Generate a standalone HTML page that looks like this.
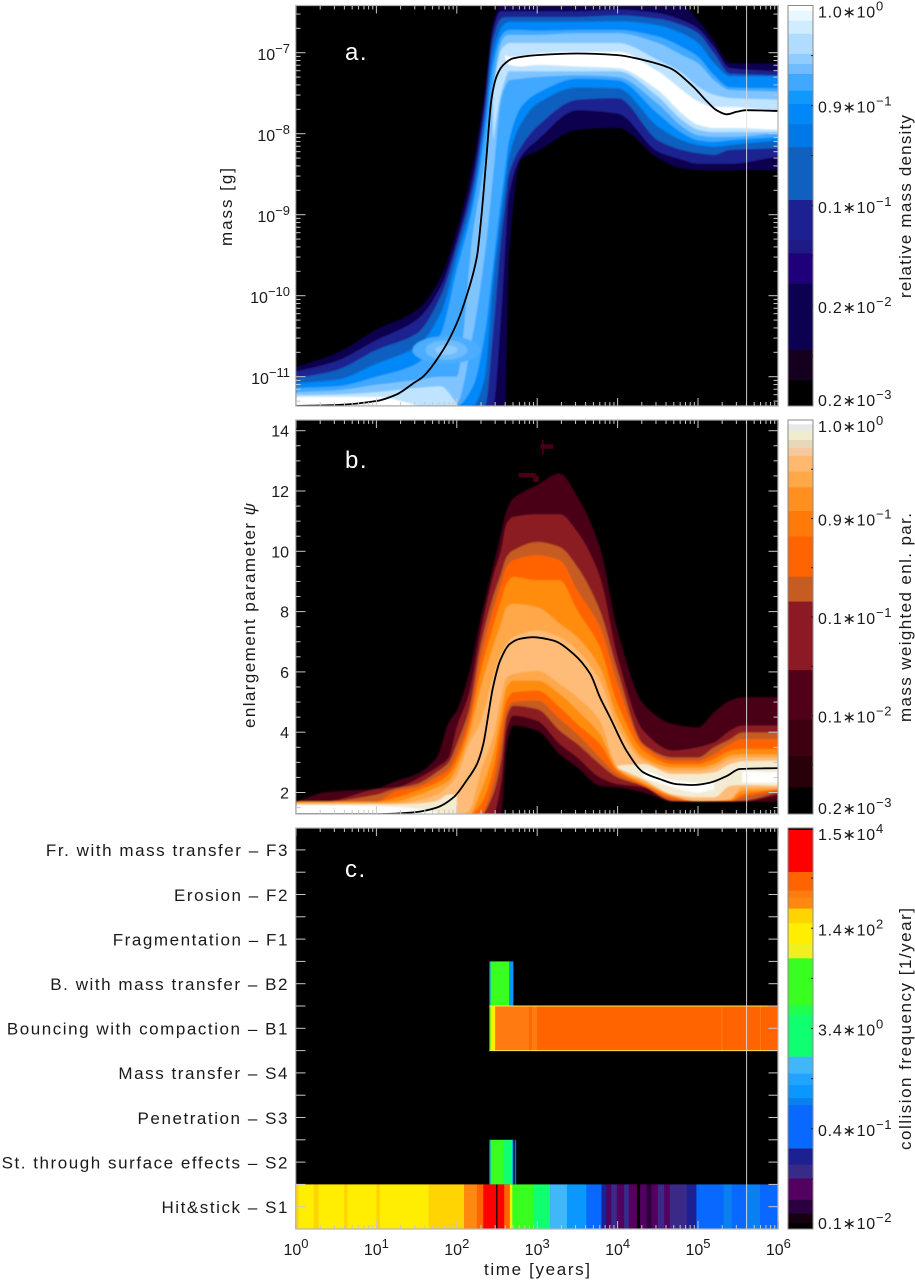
<!DOCTYPE html>
<html lang="en">
<head>
<meta charset="utf-8">
<title>Dust evolution panels</title>
<style>
html,body{margin:0;padding:0;background:#fff;}
svg{display:block;font-family:"Liberation Sans",sans-serif;}
text{fill:#1a1a1a;}
</style>
</head>
<body>
<svg id="figure" xmlns="http://www.w3.org/2000/svg" width="915" height="1281" viewBox="0 0 915 1281">
  <defs>
    <clipPath id="clip-a"><rect x="296" y="5.5" width="482" height="400.5"/></clipPath>
    <clipPath id="clip-b"><rect x="296" y="420" width="482" height="394"/></clipPath>
    <clipPath id="clip-c"><rect x="296" y="828" width="482" height="401"/></clipPath>
    <filter id="soften" x="-5%" y="-5%" width="110%" height="110%"><feGaussianBlur stdDeviation="0.9"/></filter>
  </defs>
  <rect width="915" height="1281" fill="#fff"/>

  <rect x="296" y="5.5" width="482" height="400.5" fill="#000"/>
  <rect x="296" y="420" width="482" height="394" fill="#000"/>
  <rect x="296" y="828" width="482" height="401" fill="#000"/>

  <g id="layer-a" clip-path="url(#clip-a)"></g>
  <g id="layer-b" clip-path="url(#clip-b)"></g>
  <g id="layer-c" clip-path="url(#clip-c)"></g>
  <g id="layer-axes"></g>
  <g id="layer-bars"></g>
  <g id="layer-labels" font-size="16"></g>

  <text x="345" y="60" font-size="24" letter-spacing="1.5" style="fill:#fff">a.</text>
  <text x="345" y="468" font-size="24" letter-spacing="1.5" style="fill:#fff">b.</text>
  <text x="345" y="877" font-size="24" letter-spacing="1.5" style="fill:#fff">c.</text>

  <text transform="translate(232,246) rotate(-90)" font-size="17" textLength="78">mass [g]</text>
  <text transform="translate(255,728) rotate(-90)" font-size="17" textLength="225">enlargement parameter <tspan font-style="italic">ψ</tspan></text>
  <text x="484" y="1275" font-size="17" textLength="106">time [years]</text>
  <text transform="translate(911,298) rotate(-90)" font-size="17" textLength="183">relative mass density</text>
  <text transform="translate(911,722) rotate(-90)" font-size="17" textLength="209">mass weighted enl. par.</text>
  <text transform="translate(911,1150) rotate(-90)" font-size="17" textLength="242">collision frequency [1/year]</text>
</svg>

<script>
// ---------- panel a: log10(mass) contour boundaries at each log10(time) knot ----------
const massKnots = [0,.5,1,1.5,1.8,2,2.2,2.35,2.45,2.55,2.6,2.65,2.8,3,3.5,4,4.5,4.8,5,5.2,5.4,6];
const massLevelColors = ['#0c0050','#1c2090','#1060c0','#0088f8','#40a8ff','#80c4ff','#c0e4ff','#ffffff'];
const massUpper1 = [-10.88,-10.71,-10.42,-10.18,-9.77,-9.19,-8.37,-7.46,-6.64,-6.42,-6.42,-6.42,-6.42,-6.42,-6.42,-6.42,-6.42,-6.42,-6.60,-6.86,-7.13,-7.13];
const massLower1 = [-11.36,-11.36,-11.36,-11.36,-11.36,-11.36,-11.36,-11.36,-11.36,-11.36,-11.36,-9.48,-8.32,-8.22,-7.95,-7.93,-8.30,-8.43,-8.45,-8.45,-8.45,-8.45];
const massUpper2 = [-10.94,-10.81,-10.55,-10.30,-9.89,-9.31,-8.53,-7.58,-6.72,-6.49,-6.49,-6.49,-6.49,-6.49,-6.49,-6.47,-6.51,-6.60,-6.70,-6.93,-7.19,-7.23];
const massLower2 = [-11.36,-11.36,-11.36,-11.36,-11.36,-11.36,-11.36,-11.36,-11.36,-10.26,-9.44,-8.74,-8.28,-8.08,-7.71,-7.75,-8.22,-8.32,-8.37,-8.37,-8.37,-8.28];
const massUpper3 = [-11.02,-10.92,-10.67,-10.47,-10.01,-9.40,-8.65,-7.71,-6.84,-6.58,-6.56,-6.56,-6.56,-6.56,-6.56,-6.54,-6.58,-6.66,-6.76,-7.01,-7.26,-7.28];
const massLower3 = [-11.36,-11.36,-11.36,-11.36,-11.36,-11.36,-11.36,-11.36,-10.47,-9.31,-8.90,-8.49,-8.16,-7.91,-7.58,-7.56,-8.08,-8.20,-8.24,-8.26,-8.20,-8.18];
const massUpper4 = [-11.08,-11.04,-10.84,-10.63,-10.22,-9.52,-8.78,-7.83,-7.01,-6.70,-6.64,-6.62,-6.62,-6.62,-6.62,-6.61,-6.66,-6.76,-6.88,-7.13,-7.29,-7.29];
const massLower4 = [-11.36,-11.36,-11.36,-11.36,-11.36,-11.36,-11.36,-11.0,-9.85,-9.02,-8.65,-8.28,-7.87,-7.63,-7.43,-7.44,-7.91,-8.08,-8.14,-8.16,-8.14,-8.08];
const massUpper5 = [-11.14,-11.12,-11.0,-10.84,-10.47,-9.68,-8.90,-7.99,-7.17,-6.80,-6.74,-6.72,-6.72,-6.73,-6.72,-6.72,-6.80,-6.93,-7.05,-7.28,-7.43,-7.44];
const massLower5 = [-11.36,-11.36,-11.36,-11.36,-11.36,-11.36,-11.12,-10.47,-9.64,-8.82,-8.45,-8.08,-7.67,-7.50,-7.32,-7.34,-7.75,-7.99,-8.08,-8.10,-8.08,-8.04];
const massUpper6 = [-11.19,-11.17,-11.10,-11.04,-11.0,-11.0,-9.23,-8.32,-7.42,-6.88,-6.80,-6.78,-6.78,-6.78,-6.76,-6.76,-6.88,-7.03,-7.13,-7.34,-7.46,-7.48];
const massLower6 = [-11.36,-11.36,-11.36,-11.36,-11.36,-11.33,-10.47,-9.48,-8.53,-7.58,-7.42,-7.34,-7.32,-7.30,-7.28,-7.30,-7.63,-7.91,-8.02,-8.04,-8.04,-7.99];
const massUpper7 = [-11.23,-11.22,-11.19,-11.14,-11.12,-11.33,null,null,-7.46,-6.97,-6.91,-6.88,-6.88,-6.88,-6.88,-6.88,-7.09,-7.25,-7.42,-7.52,-7.56,-7.58];
const massLower7 = [-11.36,-11.36,-11.36,-11.36,-11.36,-11.36,null,null,-8.08,-7.50,-7.34,-7.23,-7.23,-7.23,-7.23,-7.23,-7.54,-7.83,-7.95,-7.98,-7.98,-7.98];
const massUpper8 = [-11.25,-11.25,-11.25,-11.35,null,null,null,null,null,null,-7.03,-7.05,-7.05,-7.01,-6.99,-6.99,-7.23,-7.46,-7.60,-7.67,-7.67,-7.73];
const massLower8 = [-11.36,-11.36,-11.36,-11.36,null,null,null,null,null,null,-7.07,-7.15,-7.17,-7.15,-7.17,-7.19,-7.46,-7.75,-7.89,-7.93,-7.93,-7.95];
const massBlobTime = [1.87,1.87,1.87];
const massBlobMass = [-10.67,-10.67,-10.67];
const massBlobSpanTime = [.42,.26,.14];
const massBlobSpanMass = [.17,.12,.06];
const massBlobColors = ['#4cadff','#6ebcff','#8ccaff'];
const massMeanTime = [0,.5,1,1.25,1.46,1.58,1.83,2,2.12,2.25,2.31,2.37,2.43,2.5,2.58,2.7,3,3.5,4,4.32,4.65,4.94,5.11,5.23,5.36,5.48,5.6,6];
const massMeanValue = [-11.36,-11.35,-11.30,-11.22,-11.08,-11,-10.67,-10.34,-10.01,-9.52,-8.98,-8.28,-7.58,-7.28,-7.15,-7.07,-7.03,-7.01,-7.03,-7.09,-7.19,-7.42,-7.6,-7.71,-7.76,-7.73,-7.71,-7.72];
const massTickExponents = [-7,-8,-9,-10,-11];

// ---------- panel b: enlargement-parameter contour boundaries ----------
const psiKnots = [0,.35,1,1.25,1.5,1.75,1.9,2,2.15,2.3,2.45,2.55,2.62,2.7,3,3.28,3.5,3.78,4,4.32,4.69,5,5.2,5.4,5.55,6];
const psiLevelColors = ['#4a0014','#8b1a24','#c65c22','#ff6400','#ff8c10','#ffa848','#ffbc78','#f3ecd2','#ffffff'];
const psiUpper1 = [1.70,2.0,2.14,2.39,2.61,3.16,4.33,4.72,5.93,7.82,9.48,10.59,11.36,11.75,12.2,12.58,11.81,10.14,7.37,4.94,4.27,4.16,4.66,5.05,5.16,5.16];
const psiLower1 = [1.26,1.26,1.26,1.26,1.26,1.26,1.26,1.26,1.26,1.26,1.26,1.26,3.50,4.22,4.05,3.27,2.83,2.22,2.17,2.0,1.70,1.70,1.70,1.70,1.70,1.70];
const psiUpper2 = [1.70,1.70,2.11,2.17,2.44,2.83,3.16,4.16,5.27,7.37,9.15,10.03,10.92,11.14,11.23,11.23,10.64,9.15,6.49,4.05,3.39,3.50,3.66,4.05,4.22,4.22];
const psiLower2 = [1.26,1.26,1.26,1.26,1.26,1.26,1.26,1.26,1.26,1.26,1.26,2.28,4.05,4.55,4.38,3.61,3.16,2.50,2.28,2.17,1.70,1.70,1.70,1.70,1.70,1.93];
const psiUpper3 = [1.70,1.70,1.93,2.14,2.28,2.67,3.0,3.61,4.72,6.93,8.48,9.26,9.81,10.03,10.31,10.14,9.48,8.04,6.04,3.61,3.16,3.16,3.50,3.77,3.99,3.99];
const psiLower3 = [1.26,1.26,1.26,1.26,1.26,1.26,1.26,1.26,1.26,1.26,1.93,3.05,4.49,4.88,4.77,4.05,3.61,2.94,2.50,2.22,1.72,1.70,1.70,1.70,1.72,2.0];
const psiUpper4 = [1.70,1.70,1.70,2.06,2.17,2.50,2.77,3.27,4.38,6.49,8.04,8.93,9.48,9.70,9.87,9.70,8.70,7.49,5.60,3.55,3.05,3.05,3.27,3.61,3.77,3.77];
const psiLower4 = [1.26,1.26,1.26,1.26,1.26,1.26,1.26,1.26,1.26,1.26,2.28,3.61,4.72,5.0,5.05,4.44,3.94,3.16,2.61,2.22,1.78,1.70,1.70,1.70,1.84,2.06];
const psiUpper5 = [1.70,1.70,1.70,1.84,2.06,2.33,2.61,3.05,4.16,6.04,7.49,8.37,8.93,9.15,9.04,9.04,8.04,6.82,4.94,3.39,2.94,2.94,3.11,3.39,3.44,3.44];
const psiLower5 = [1.26,1.26,1.26,1.26,1.26,1.26,1.26,1.26,1.26,1.61,2.72,4.16,5.05,5.32,5.38,4.83,4.27,3.61,2.72,2.28,1.84,1.70,1.72,1.72,1.93,2.11];
const psiUpper6 = [1.67,1.67,1.67,1.70,1.89,2.17,2.39,2.83,3.89,5.49,6.82,7.60,8.15,8.26,8.15,7.60,7.15,6.15,4.49,3.16,2.83,2.83,2.94,3.22,3.27,3.27];
const psiLower6 = [1.26,1.26,1.26,1.26,1.26,1.26,1.26,1.26,1.26,2.06,3.27,4.60,5.49,5.71,5.71,5.27,4.72,3.94,2.77,2.33,1.89,1.70,1.72,1.78,2.06,2.11];
const psiUpper7 = [1.63,1.63,1.63,1.63,1.72,1.93,2.22,2.55,3.61,4.38,5.82,6.60,6.93,7.15,7.37,7.15,6.71,5.71,4.16,3.05,2.72,2.72,2.83,3.11,3.16,3.16];
const psiLower7 = [1.26,1.26,1.26,1.26,1.26,1.26,1.26,1.26,1.39,2.72,3.83,5.16,5.82,5.93,6.04,5.60,5.16,4.38,2.83,2.39,1.89,1.72,1.72,1.78,2.17,2.17];
const psiUpper8 = [1.61,1.61,1.61,1.61,1.63,1.72,1.93,1.93,null,null,null,null,null,null,null,null,null,null,2.89,2.94,2.61,2.61,2.67,2.94,3.03,3.05];
const psiLower8 = [1.26,1.26,1.26,1.26,1.26,1.26,1.26,1.26,null,null,null,null,null,null,null,null,null,null,2.81,2.44,1.93,1.84,1.84,2.22,2.25,2.22];
const psiUpper9 = [1.58,1.58,1.56,1.52,1.46,1.34,null,null,null,null,null,null,null,null,null,null,null,null,null,2.78,2.41,2.33,2.37,null,2.70,2.67];
const psiLower9 = [1.26,1.26,1.26,1.26,1.26,1.26,null,null,null,null,null,null,null,null,null,null,null,null,null,2.50,2.17,2.0,2.11,null,2.33,2.33];
const psiSpeckStart = [3.04,3.06,2.77,2.95];
const psiSpeckEnd = [3.2,3.08,2.98,3.02];
const psiSpeckLow = [13.4,13.2,12.45,12.3];
const psiSpeckHigh = [13.55,13.7,12.6,12.5];
const psiMeanTime = [0,1,1.46,1.75,1.96,2.12,2.25,2.33,2.40,2.45,2.54,2.66,2.79,2.95,3.2,3.45,3.66,3.78,3.906,4.11,4.32,4.53,4.73,4.94,5.15,5.36,5.52,6];
const psiMeanValue = [1.28,1.28,1.34,1.50,1.84,2.39,2.94,3.61,4.72,5.49,6.38,6.93,7.10,7.15,7.04,6.60,5.93,5.16,4.49,3.39,2.67,2.44,2.28,2.25,2.33,2.55,2.78,2.81];
const psiTickLabels = [14,12,10,8,6,4,2];

// ---------- panel c: collision types, log10(frequency) per time segment ----------
const collisionLabels = ['Hit&stick – S1','St. through surface effects – S2','Penetration – S3','Mass transfer – S4','Bouncing with compaction – B1','B. with mass transfer – B2','Fragmentation – F1','Erosion – F2','Fr. with mass transfer – F3'];
const rowS1Edges = [0,.03,.22,.28,.6,.64,1.0,1.04,1.65,2.09,2.25,2.33,2.49,2.505,2.59,2.66,2.69,2.95,3.16,3.37,3.61,3.8,3.86,3.92,3.99,4.08,4.14,4.24,4.28,4.36,4.42,4.5,4.58,4.65,4.86,4.98,5.32,5.42,5.6,5.77,6];
const rowS1Freq = [2.6,2.3,2.6,2.3,2.6,2.3,2.6,2.3,2.6,2.85,3.2,3.8,-3.05,3.8,3.2,2.3,1.4,.4,-.1,-.6,-1.2,-1.8,-2.4,-2.0,-2.4,-2.0,-2.4,-3.05,-2.4,-2.7,-2.4,-2.0,-2.4,-2.0,-1.8,-1.2,-.78,-1.2,-.78,-1.2];
const rowS2Edges = [2.405,2.42,2.587,2.69,2.70,2.72,2.735];
const rowS2Freq = [-.6,1.4,.4,-.6,null,-1.2];
const rowB1Edges = [2.405,2.42,2.475,2.49,2.9,2.93,3.0,3.2,5.29,5.305,5.77,5.785,6];
const rowB1Freq = [1.4,2.3,2.85,3.0,3.2,3.0,3.1,3.2,3.0,3.2,3.0,3.2];
const rowB2Edges = [2.405,2.42,2.65,2.70];
const rowB2Freq = [-.6,1.4,-.6];
const freqEdges = [-3.11,-3,-2.82,-2.57,-2.18,-1.93,-1.63,-.84,-.71,-.47,-.26,.05,.81,.99,1.85,2.12,2.49,2.76,2.96,3.09,3.43,4.20,4.23];
const freqColors = ['#000000','#14000f','#2a0040','#540060','#3a2a88','#1c2090','#0868ff','#0880f0','#0a98ff','#20a4ff','#40b8f8','#10ff70','#20ff50','#38ff20','#f0f020','#ffee00','#ffd400','#ff8810','#ff7a10','#ff6400','#ff0000','#000000'];

// ---------- shared ----------
const timeExponents = [0,1,2,3,4,5,6];
const markerTime = 5.605;
const barAEdges = [0,.066,.141,.307,.382,.415,.515,.647,.705,.755,.788,.83,.855,.88,.93,.963,.988,1];
const barAColors = ['#000000','#14001e','#0c0050','#20007a','#1f1a84','#1c2090','#1060c0','#0078e8','#0088f8','#1098ff','#40a8ff','#70bcff','#90ccff','#b0dcff','#d0ecff','#e8f8ff','#ffffff'];
const barBEdges = [0,.068,.148,.24,.366,.54,.603,.705,.77,.83,.87,.91,.93,.95,.975,.99,1];
const barBColors = ['#000000','#28000a','#3c0010','#500018','#8b1a24','#c65c22','#ff6400','#ff7a08','#ff9020','#ffa848','#ffb870','#f5c8a0','#e8d8b8','#f0ecd0','#e8e8e8','#ffffff'];
const barAMantissas = ['0.2','0.2','0.1','0.9','1.0'];
const barAExponents = [-3,-2,-1,-1,0];
const barBMantissas = ['0.2','0.1','0.1','0.9','1.0'];
const barBExponents = [-3,-2,-1,-1,0];
const barCMantissas = ['0.1','0.4','3.4','1.4','1.5'];
const barCExponents = [-2,-1,0,2,4];
const barTickFractions = [0,.25,.5,.75,1];

// ---------- layout and scales ----------
const plotLeft = 296, plotRight = 778, decadeWidth = 80.4;
const panelA = {top:5.5, bottom:406}, panelB = {top:420, bottom:814}, panelC = {top:828, bottom:1229};
const barLeft = 788, barRight = 813;
const xScale = function (logTime) { return plotLeft + logTime * decadeWidth; };
const yMass = function (logMass) { return 52.7 + (-7 - logMass) * 81; };
const yPsi = function (psi) { return 430.7 + (14 - psi) * 30.15; };
const yRow = function (rowIndex) { return 1206.7 - 44.6 * rowIndex; };
const minus = function (n) { return n < 0 ? '\u2212' + Math.abs(n) : String(n); };

const NS = 'http://www.w3.org/2000/svg';
function node(tag, parent, name) {
  const el = document.createElementNS(NS, tag);
  
  
  parent.appendChild(el);
  return el;
}
// monotone cubic tangents so smoothed boundaries never overshoot the read values
function tangents(xs, ys) {
  const n = xs.length, d = [], m = [];
  for (let i = 0; i < n - 1; i++) d.push((ys[i + 1] - ys[i]) / (xs[i + 1] - xs[i]));
  for (let i = 0; i < n; i++) {
    if (i === 0) m.push(d[0]);
    else if (i === n - 1) m.push(d[n - 2]);
    else if (d[i - 1] * d[i] <= 0) m.push(0);
    else m.push(2 * d[i - 1] * d[i] / (d[i - 1] + d[i]));
  }
  return m;
}
function curveSegments(xs, ys, reverse) {
  const m = tangents(xs, ys);
  let out = '';
  const f = function (v) { return v.toFixed(1); };
  if (!reverse) {
    for (let i = 0; i < xs.length - 1; i++) {
      const h = (xs[i + 1] - xs[i]) / 3;
      out += 'C' + f(xs[i] + h) + ' ' + f(ys[i] + m[i] * h) + ' ' + f(xs[i + 1] - h) + ' ' + f(ys[i + 1] - m[i + 1] * h) + ' ' + f(xs[i + 1]) + ' ' + f(ys[i + 1]);
    }
  } else {
    for (let i = xs.length - 1; i > 0; i--) {
      const h = (xs[i] - xs[i - 1]) / 3;
      out += 'C' + f(xs[i] - h) + ' ' + f(ys[i] - m[i] * h) + ' ' + f(xs[i - 1] + h) + ' ' + f(ys[i - 1] + m[i - 1] * h) + ' ' + f(xs[i - 1]) + ' ' + f(ys[i - 1]);
    }
  }
  return out;
}
function drawBand(parent, name, knots, upper, lower, yScale, color) {
  let xs = [], top = [], bottom = [];
  const flush = function () {
    if (xs.length > 1) {
      const last = xs.length - 1;
      const d = 'M' + xs[0].toFixed(1) + ' ' + top[0].toFixed(1) + curveSegments(xs, top, false) +
        'L' + xs[last].toFixed(1) + ' ' + bottom[last].toFixed(1) + curveSegments(xs, bottom, true) + 'Z';
      const shape = node('path', parent, name);
      shape.setAttribute('d', d);
      shape.setAttribute('fill', color);
    }
    xs = [];
    top = [];
    bottom = [];
  };
  knots.forEach(function (t, i) {
    if (upper[i] === null) { flush(); return; }
    xs.push(xScale(t));
    top.push(yScale(upper[i]));
    bottom.push(yScale(lower[i]));
  });
  flush();
}
function drawLine(parent, name, times, values, yScale) {
  const xs = times.map(xScale);
  const ys = values.map(yScale);
  const path = node('path', parent, name);
  path.setAttribute('d', 'M' + xs[0].toFixed(1) + ' ' + ys[0].toFixed(1) + curveSegments(xs, ys, false));
  path.setAttribute('fill', 'none');
  path.setAttribute('stroke', '#000');
  path.setAttribute('stroke-width', '1.8');
  path.setAttribute('stroke-linejoin', 'round');
}
function drawMarker(parent, panel) {
  const m = node('line', parent, 'time-marker-line');
  m.setAttribute('x1', xScale(markerTime));
  m.setAttribute('x2', xScale(markerTime));
  m.setAttribute('y1', panel.top);
  m.setAttribute('y2', panel.bottom);
  m.setAttribute('stroke', '#e0e0e0');
  m.setAttribute('stroke-width', '0.9');
}

// panel a
const layerA = document.getElementById('layer-a');
const softA = node('g', layerA, 'density-contours');
softA.setAttribute('filter', 'url(#soften)');
const massUppers = [massUpper1,massUpper2,massUpper3,massUpper4,massUpper5,massUpper6,massUpper7,massUpper8];
const massLowers = [massLower1,massLower2,massLower3,massLower4,massLower5,massLower6,massLower7,massLower8];
massUppers.forEach(function (upper, i) {
  drawBand(softA, 'density-level-' + (i + 1), massKnots, upper, massLowers[i], yMass, massLevelColors[i]);
});
massBlobTime.forEach(function (t, i) {
  const e = node('ellipse', softA, 'density-bump');
  e.setAttribute('cx', xScale(t));
  e.setAttribute('cy', yMass(massBlobMass[i]));
  e.setAttribute('rx', massBlobSpanTime[i] * decadeWidth);
  e.setAttribute('ry', massBlobSpanMass[i] * 81);
  e.setAttribute('fill', massBlobColors[i]);
});
drawLine(layerA, 'mean-mass-curve', massMeanTime, massMeanValue, yMass);
drawMarker(layerA, panelA);

// panel b
const layerB = document.getElementById('layer-b');
const softB = node('g', layerB, 'enlargement-contours');
softB.setAttribute('filter', 'url(#soften)');
const psiUppers = [psiUpper1,psiUpper2,psiUpper3,psiUpper4,psiUpper5,psiUpper6,psiUpper7,psiUpper8,psiUpper9];
const psiLowers = [psiLower1,psiLower2,psiLower3,psiLower4,psiLower5,psiLower6,psiLower7,psiLower8,psiLower9];
psiUppers.forEach(function (upper, i) {
  drawBand(softB, 'enlargement-level-' + (i + 1), psiKnots, upper, psiLowers[i], yPsi, psiLevelColors[i]);
});
psiSpeckStart.forEach(function (t, i) {
  const s = node('rect', layerB, 'enlargement-speck');
  s.setAttribute('x', xScale(t));
  s.setAttribute('width', (psiSpeckEnd[i] - t) * decadeWidth);
  s.setAttribute('y', yPsi(psiSpeckHigh[i]));
  s.setAttribute('height', (psiSpeckHigh[i] - psiSpeckLow[i]) * 30.15);
  s.setAttribute('fill', psiLevelColors[0]);
});
drawLine(layerB, 'mean-enlargement-curve', psiMeanTime, psiMeanValue, yPsi);
drawMarker(layerB, panelB);

// panel c
const layerC = document.getElementById('layer-c');
function freqColor(v) {
  for (let i = 0; i < freqColors.length; i++) {
    if (v >= freqEdges[i] && v < freqEdges[i + 1]) return freqColors[i];
  }
  return '#000';
}
function drawRow(rowIndex, edges, freq, name) {
  const half = 22.3;
  freq.forEach(function (v, i) {
    if (v === null) return;
    const r = node('rect', layerC, name);
    r.setAttribute('x', xScale(edges[i]));
    r.setAttribute('width', (edges[i + 1] - edges[i]) * decadeWidth + 0.3);
    r.setAttribute('y', yRow(rowIndex) - half);
    r.setAttribute('height', half * 2);
    r.setAttribute('fill', freqColor(v));
  });
}
drawRow(0, rowS1Edges, rowS1Freq, 'hit-stick-segment');
drawRow(1, rowS2Edges, rowS2Freq, 'surface-sticking-segment');
drawRow(4, rowB1Edges, rowB1Freq, 'bouncing-segment');
drawRow(5, rowB2Edges, rowB2Freq, 'bouncing-transfer-segment');
[22.3, -22.3].forEach(function (offset) {
  const edge = node('line', layerC, 'bouncing-row-edge');
  edge.setAttribute('x1', xScale(rowB1Edges[0]));
  edge.setAttribute('x2', plotRight);
  edge.setAttribute('y1', yRow(4) + offset);
  edge.setAttribute('y2', yRow(4) + offset);
  edge.setAttribute('stroke', '#ffe84a');
  edge.setAttribute('stroke-width', '1');
});
drawMarker(layerC, panelC);

// axes
const axes = document.getElementById('layer-axes');
function tick(x1, y1, x2, y2, name) {
  const t = node('line', axes, name);
  t.setAttribute('x1', x1);
  t.setAttribute('y1', y1);
  t.setAttribute('x2', x2);
  t.setAttribute('y2', y2);
  t.setAttribute('stroke', '#c8c8c8');
  t.setAttribute('stroke-width', '1');
}
function xTicks(panel) {
  for (let d = 0; d < 6; d++) {
    for (let k = 2; k <= 9; k++) {
      const x = xScale(d + Math.log10(k));
      tick(x, panel.top, x, panel.top + 4, 'x-minor-tick');
      tick(x, panel.bottom, x, panel.bottom - 4, 'x-minor-tick');
    }
  }
  timeExponents.forEach(function (e) {
    tick(xScale(e), panel.top, xScale(e), panel.top + 8, 'x-major-tick');
    tick(xScale(e), panel.bottom, xScale(e), panel.bottom - 8, 'x-major-tick');
  });
}
function yTick(y, len, name) {
  tick(plotLeft, y, plotLeft + len, y, name);
  tick(plotRight, y, plotRight - len, y, name);
}
[panelA, panelB, panelC].forEach(xTicks);
massTickExponents.forEach(function (e) {
  yTick(yMass(e), 9.5, 'mass-major-tick');
  for (let k = 2; k <= 9; k++) {
    const y = yMass(e + Math.log10(k));
    if (y >= panelA.top) yTick(y, 4.5, 'mass-minor-tick');
  }
});
[5, 6, 7, 8, 9].forEach(function (k) {
  yTick(yMass(-12 + Math.log10(k)), 4.5, 'mass-minor-tick');
});
psiTickLabels.forEach(function (v) {
  yTick(yPsi(v), 9.5, 'psi-major-tick');
  [.5, 1, 1.5].forEach(function (d) {
    if (v - d > 1.3) yTick(yPsi(v - d), 4.5, 'psi-minor-tick');
  });
});
collisionLabels.forEach(function (label, i) {
  yTick(yRow(i), 9.5, 'collision-major-tick');
  if (i < 8) yTick(yRow(i + .5), 9.5, 'collision-minor-tick');
});
[panelA, panelB, panelC].forEach(function (panel) {
  const f = node('rect', axes, 'plot-frame');
  f.setAttribute('x', plotLeft - .3);
  f.setAttribute('y', panel.top);
  f.setAttribute('width', plotRight - plotLeft + .3);
  f.setAttribute('height', panel.bottom - panel.top);
  f.setAttribute('fill', 'none');
  f.setAttribute('stroke', '#b4b4b4');
  f.setAttribute('stroke-width', '1.2');
});

// colorbars
const bars = document.getElementById('layer-bars');
function colorbar(panel, edges, colors, name) {
  const h = panel.bottom - panel.top;
  colors.forEach(function (c, i) {
    const r = node('rect', bars, name + '-band');
    r.setAttribute('x', barLeft);
    r.setAttribute('width', barRight - barLeft);
    r.setAttribute('y', panel.bottom - edges[i + 1] * h);
    r.setAttribute('height', (edges[i + 1] - edges[i]) * h + .3);
    r.setAttribute('fill', c);
  });
  const f = node('rect', bars, name + '-frame');
  f.setAttribute('x', barLeft);
  f.setAttribute('y', panel.top);
  f.setAttribute('width', barRight - barLeft);
  f.setAttribute('height', h);
  f.setAttribute('fill', 'none');
  f.setAttribute('stroke', '#8a8a8a');
  f.setAttribute('stroke-width', '1');
  for (let k = 1; k < 8; k++) {
    const t = node('line', bars, name + '-tick');
    t.setAttribute('x1', barRight);
    t.setAttribute('x2', barRight - 2);
    t.setAttribute('y1', panel.top + h * k / 8);
    t.setAttribute('y2', panel.top + h * k / 8);
    t.setAttribute('stroke', '#222');
  }
}
colorbar(panelA, barAEdges, barAColors, 'density-colorbar');
colorbar(panelB, barBEdges, barBColors, 'enlargement-colorbar');
const barCEdges = freqEdges.map(function (v) { return (v - freqEdges[0]) / (freqEdges[freqEdges.length - 1] - freqEdges[0]); });
colorbar(panelC, barCEdges, freqColors, 'frequency-colorbar');

// labels
const labels = document.getElementById('layer-labels');
function supText(x, y, base, exp, anchor, spacing, name) {
  const t = node('text', labels, name);
  t.setAttribute('x', x);
  t.setAttribute('y', y);
  t.setAttribute('text-anchor', anchor);
  if (spacing) t.setAttribute('letter-spacing', spacing);
  t.appendChild(document.createTextNode(base));
  const s = document.createElementNS(NS, 'tspan');
  s.setAttribute('dy', '-7');
  s.setAttribute('font-size', '13');
  s.textContent = minus(exp);
  t.appendChild(s);
}
massTickExponents.forEach(function (e) {
  supText(290, yMass(e) + 7.3, '10', e, 'end', 0, 'mass-tick-label');
});
psiTickLabels.forEach(function (v) {
  const t = node('text', labels, 'psi-tick-label');
  t.setAttribute('x', 289);
  t.setAttribute('y', yPsi(v) + 6);
  t.setAttribute('text-anchor', 'end');
  t.textContent = v;
});
collisionLabels.forEach(function (label, i) {
  const t = node('text', labels, 'collision-type-label');
  t.setAttribute('x', 289);
  t.setAttribute('y', yRow(i) + 6.3);
  t.setAttribute('text-anchor', 'end');
  t.setAttribute('font-size', '17');
  t.setAttribute('letter-spacing', '1.55');
  t.textContent = label;
});
timeExponents.forEach(function (e) {
  supText(xScale(e), 1255, '10', e, 'middle', 0, 'time-tick-label');
});
function barLabels(panel, mantissas, exponents, name) {
  const h = panel.bottom - panel.top;
  barTickFractions.forEach(function (f, i) {
    const y = panel.bottom - f * h;
    const baseline = Math.max(panel.top + 12, Math.min(panel.bottom, y + 7));
    supText(818, baseline, mantissas[i] + '\u2217' + '10', exponents[i], 'start', 0.75, name);
  });
}
barLabels(panelA, barAMantissas, barAExponents, 'density-colorbar-label');
barLabels(panelB, barBMantissas, barBExponents, 'enlargement-colorbar-label');
barLabels(panelC, barCMantissas, barCExponents, 'frequency-colorbar-label');
</script>
</body>
</html>
